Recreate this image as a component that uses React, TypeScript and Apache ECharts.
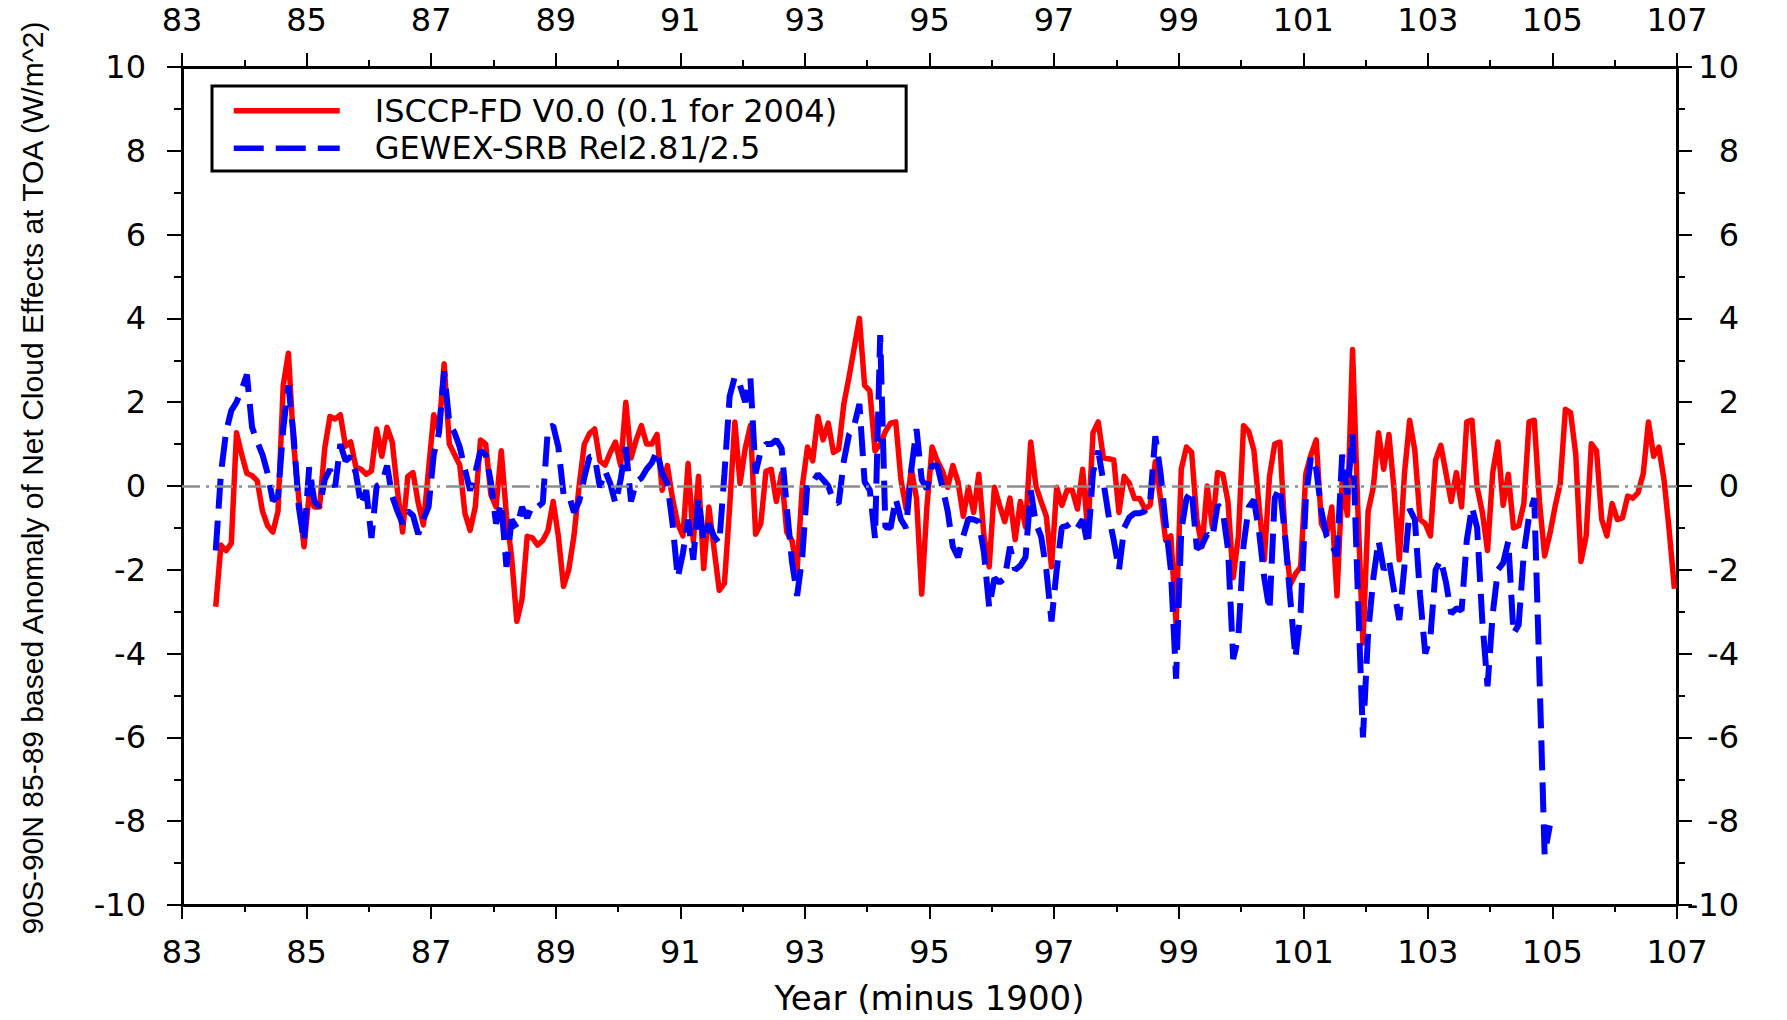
import React, { useEffect, useRef } from 'react';
import * as echarts from 'echarts';

// Axis origin: 1983 (year minus 1900 = 83). Monthly values from July 1983.
const startYear = 83;
const firstMonth = 7;
const xTickStep = 2;
const yMin = -10;
const yMax = 10;

const redName = 'ISCCP-FD V0.0 (0.1 for 2004)';
const blueName = 'GEWEX-SRB Rel2.81/2.5';
const xTitle = 'Year (minus 1900)';
const yTitle = '90S-90N 85-89 based Anomaly of Net Cloud Effects at TOA (W/m^2)';

// ISCCP-FD monthly anomaly, Jul 1983 .. Dec 2006
const redValues = [
  -2.88, -1.41, -1.54, -1.37, 1.27, 0.75, 0.3, 0.25, 0.12, -0.6, -0.95, -1.1,
  -0.6, 2.4, 3.17, 1.0, -0.3, -1.45, -0.2, -0.5, -0.5, 0.9, 1.66, 1.6,
  1.7, 0.95, 1.05, 0.45, 0.4, 0.28, 0.36, 1.36, 0.71, 1.4, 1.05, -0.1,
  -1.1, 0.23, 0.32, -0.4, -0.93, 0.4, 1.7, 1.3, 2.92, 1.0, 0.75, 0.5,
  -0.65, -1.06, -0.5, 1.1, 1.0, -0.2, -0.5, 0.84, -0.7, -1.7, -3.23, -2.7,
  -1.2, -1.24, -1.41, -1.3, -1.06, -0.37, -1.2, -2.4, -2.0, -1.2, 0.0, 1.0,
  1.25, 1.36, 0.6, 0.5, 0.8, 1.05, 0.49, 2.0, 0.67, 1.1, 1.44, 1.0,
  1.0, 1.23, -0.1, 0.49, -0.3, -0.9, -1.19, 0.54, -1.32, 0.23, -1.97, -0.5,
  -1.5, -2.49, -2.32, -0.5, 1.53, 0.06, 0.9, 1.44, -1.15, -0.9, 0.35, 0.4,
  -0.37, 0.3, -1.1, -1.3, -2.0, 0.0, 0.93, 0.6, 1.66, 1.1, 1.5, 0.8,
  0.88, 1.96, 2.6, 3.3, 4.0, 2.4, 2.27, 0.84, 1.0, 1.3, 1.5, 1.53,
  0.15, -0.55, 0.4, -0.3, -2.58, -0.5, 0.93, 0.6, 0.36, -0.03, 0.49, 0.1,
  -0.72, -0.03, -0.63, 0.28, -1.2, -1.93, -0.03, -0.46, -0.85, -0.29, -1.28, -0.37,
  -0.98, 1.05, 0.0, -0.37, -0.72, -1.93, -0.03, -0.46, -0.1, -0.1, -0.55, 0.4,
  -1.1, 1.27, 1.53, 0.67, 0.65, 0.62, -0.63, 0.23, 0.06, -0.3, -0.3, -0.55,
  -0.46, 0.58, -0.3, -1.3, -1.19, -3.3, 0.4, 0.93, 0.8, -0.8, -1.45, 0.0,
  -0.98, 0.32, 0.28, -0.37, -2.19, -1.2, 1.44, 1.3, 0.85, -0.5, -1.76, 0.23,
  1.0, 1.05, -1.2, -2.36, -2.1, -1.93, 0.3, 0.75, 1.1, -0.9, -1.15, -0.5,
  -2.62, 0.15, -0.7, 3.26, -0.5, -3.75, -0.6, -0.03, 1.27, 0.4, 1.23, -0.1,
  -1.76, 0.3, 1.57, 0.84, -0.8, -0.9, -1.19, 0.62, 0.97, 0.3, -0.37, 0.32,
  -0.5, 1.53, 1.57, -0.03, -0.63, -1.54, 0.32, 1.05, -0.46, 0.28, -1.0, -0.95,
  -0.42, 1.53, 1.57, -0.37, -1.67, -1.15, -0.5, 0.06, 1.83, 1.75, 0.75, -1.8,
  -1.19, 1.01, 0.84, -0.8, -1.19, -0.42, -0.8, -0.76, -0.24, -0.29, -0.16, 0.3,
  1.53, 0.71, 0.93, 0.15, -1.06, -2.45,
];

// GEWEX-SRB monthly anomaly, Jul 1983 .. Dec 2004
const blueValues = [
  -1.54, 0.3, 1.3, 1.8, 2.0, 2.3, 2.66, 1.4, 1.05, 0.75, 0.3, -0.35,
  -0.25, 1.36, 2.4, 1.2, -0.5, -1.32, 0.45, -0.37, -0.5, 0.15, 0.4, -0.03,
  1.0, 0.6, 0.7, 0.3, -0.46, -0.1, -1.24, 0.0, 0.06, 0.49, -0.25, -0.6,
  -0.9, -0.6, -0.7, -1.15, -0.8, -0.5, 0.75, 1.27, 2.74, 1.5, 1.27, 0.93,
  0.4, -0.11, 0.32, 0.84, 0.75, 0.1, -0.9, -0.4, -1.93, -0.8, -1.0, -0.5,
  -0.76, -0.46, -0.5, -0.4, 1.4, 1.44, 0.93, -0.2, -0.2, -0.63, -0.37, 0.2,
  0.7, 0.7, -0.03, 0.36, 0.06, -0.42, 0.15, 0.93, -0.37, 0.1, 0.19, 0.4,
  0.55, 0.84, 0.3, 0.06, -0.9, -2.19, -1.6, -0.8, -1.76, -0.29, -1.32, -0.9,
  -1.2, -1.37, 0.3, 2.14, 2.61, 2.4, 2.0, 2.57, 0.3, 0.85, 1.0, 1.0,
  1.1, 0.9, -0.5, -1.8, -2.62, -1.67, 0.1, 0.1, 0.28, 0.15, 0.0, -0.35,
  -0.42, 0.6, 1.23, 1.44, 1.96, 0.1, -0.1, -1.24, 3.6, -0.98, -1.0, -0.3,
  -0.8, -1.0, 0.4, 1.36, 0.15, -0.07, 0.49, 0.49, -0.03, -0.6, -1.45, -1.7,
  -1.2, -0.78, -0.8, -0.85, -1.6, -2.9, -2.2, -2.3, -2.2, -1.45, -2.0, -1.9,
  -1.7, -0.1, -0.9, -1.2, -2.0, -3.23, -2.0, -0.98, -0.95, -0.85, -1.0, -0.8,
  -1.41, 0.32, 0.84, 0.1, -0.7, -1.3, -2.0, -1.0, -0.75, -0.65, -0.65, -0.6,
  -0.37, 1.19, 0.32, -0.9, -2.0, -4.6, -1.06, -0.3, -0.1, -1.5, -1.41, -1.15,
  -1.24, -0.45, -0.6, -1.5, -4.13, -3.6, -1.41, -0.5, -0.33, -1.1, -2.2, -2.97,
  -0.29, -0.03, -1.2, -2.7, -4.1, -3.0, -0.3, 0.71, 0.4, -0.6, -1.2, -1.4,
  -1.67, 0.75, -0.2, 1.23, -2.5, -6.0, -3.5, -2.2, -1.3, -2.0, -1.76, -2.5,
  -3.2, -1.9, -0.55, -0.8, -2.6, -4.0, -3.6, -2.0, -1.76, -2.3, -3.05, -2.92,
  -2.97, -1.3, -0.5, -1.0, -3.23, -4.78, -3.05, -2.0, -1.84, -1.32, -3.53, -3.31,
  -1.6, -0.72, -0.29, -4.5, -8.8, -8.1,
];

// month i -> years since 1983 at mid-month
const toPoints = (values: number[]) =>
  values.map((v, i) => [(firstMonth - 0.5 + i) / 12, v]);

const tickFont = 'DejaVu Sans';

function makeXAxis(position: 'top' | 'bottom', withName: boolean): any {
  return {
    type: 'value',
    position,
    min: 0,
    max: 24,
    interval: xTickStep,
    name: withName ? xTitle : '',
    nameLocation: 'middle',
    nameGap: 76,
    nameTextStyle: { fontFamily: tickFont, fontSize: 34, color: '#000' },
    axisLine: { show: true, onZero: false, lineStyle: { color: '#000', width: 3 } },
    axisTick: { show: true, inside: false, length: 14, lineStyle: { color: '#000', width: 2 } },
    minorTick: { show: true, splitNumber: 2, length: 7, lineStyle: { color: '#000', width: 2 } },
    splitLine: { show: false },
    minorSplitLine: { show: false },
    axisLabel: {
      show: true,
      margin: 31,
      fontFamily: tickFont,
      fontSize: 32,
      color: '#000',
      formatter: (v: number) => String(startYear + v),
    },
  };
}

function makeYAxis(position: 'left' | 'right'): any {
  return {
    type: 'value',
    position,
    min: yMin,
    max: yMax,
    interval: 2,
    axisLine: { show: true, onZero: false, lineStyle: { color: '#000', width: 3 } },
    axisTick: { show: true, inside: false, length: 15, lineStyle: { color: '#000', width: 2 } },
    minorTick: { show: true, splitNumber: 2, length: 8, lineStyle: { color: '#000', width: 2 } },
    splitLine: { show: false },
    axisLabel: {
      show: true,
      margin: position === 'left' ? 36 : 62,
      align: 'right',
      fontFamily: tickFont,
      fontSize: 32,
      color: '#000',
    },
  };
}

export default function App() {
  const ref = useRef<HTMLDivElement>(null);
  useEffect(() => {
    if (!ref.current) return;
    const chart = echarts.init(ref.current, null, { renderer: 'svg' });
    chart.setOption({
      animation: false,
      backgroundColor: '#ffffff',
      grid: { left: 182, top: 67, width: 1495, height: 840, containLabel: false },
      legend: {
        show: true,
        orient: 'vertical',
        left: 212,
        top: 86,
        data: [redName, blueName],
        selectedMode: false,
        itemWidth: 106,
        itemHeight: 20,
        itemGap: 0,
        padding: [6, 69, 4, 19],
        borderColor: '#000',
        borderWidth: 3,
        backgroundColor: '#fff',
        itemStyle: { color: 'rgba(0,0,0,0)', borderWidth: 0, opacity: 0 },
        lineStyle: { width: 5.5 },
        textStyle: {
          fontFamily: tickFont,
          fontSize: 32,
          color: '#000',
          lineHeight: 37.5,
          padding: [0, 0, 0, 30],
        },
      },
      xAxis: [makeXAxis('bottom', true), makeXAxis('top', false)],
      yAxis: [makeYAxis('left'), makeYAxis('right')],
      graphic: [
        {
          type: 'text',
          x: 32,
          y: 478,
          rotation: Math.PI / 2,
          silent: true,
          style: {
            text: yTitle,
            fill: '#000',
            font: '30px "Liberation Sans", Arial, sans-serif',
            textAlign: 'center',
            textVerticalAlign: 'middle',
            align: 'center',
            verticalAlign: 'middle',
          },
        },
      ],
      series: [
        {
          name: redName,
          type: 'line',
          xAxisIndex: 0,
          yAxisIndex: 0,
          data: toPoints(redValues),
          symbol: 'none',
          showSymbol: false,
          lineStyle: { color: '#ff0000', width: 5.5, join: 'round' },
          itemStyle: { color: '#ff0000' },
          z: 2,
          markLine: {
            silent: true,
            symbol: 'none',
            label: { show: false },
            lineStyle: { color: '#8c8c8c', width: 2.5, type: [18, 6, 3, 6] },
            data: [{ yAxis: 0 }],
          },
        },
        {
          name: blueName,
          type: 'line',
          xAxisIndex: 0,
          yAxisIndex: 0,
          data: toPoints(blueValues),
          symbol: 'none',
          showSymbol: false,
          lineStyle: { color: '#0000ff', width: 6, type: [30, 12], cap: 'butt' },
          itemStyle: { color: '#0000ff' },
          z: 3,
        },
      ],
    });
    return () => chart.dispose();
  }, []);
  return (
    <div
      ref={ref}
      style={{ position: 'absolute', left: 0, top: 0, width: 1787, height: 1020, background: '#fff' }}
    />
  );
}
